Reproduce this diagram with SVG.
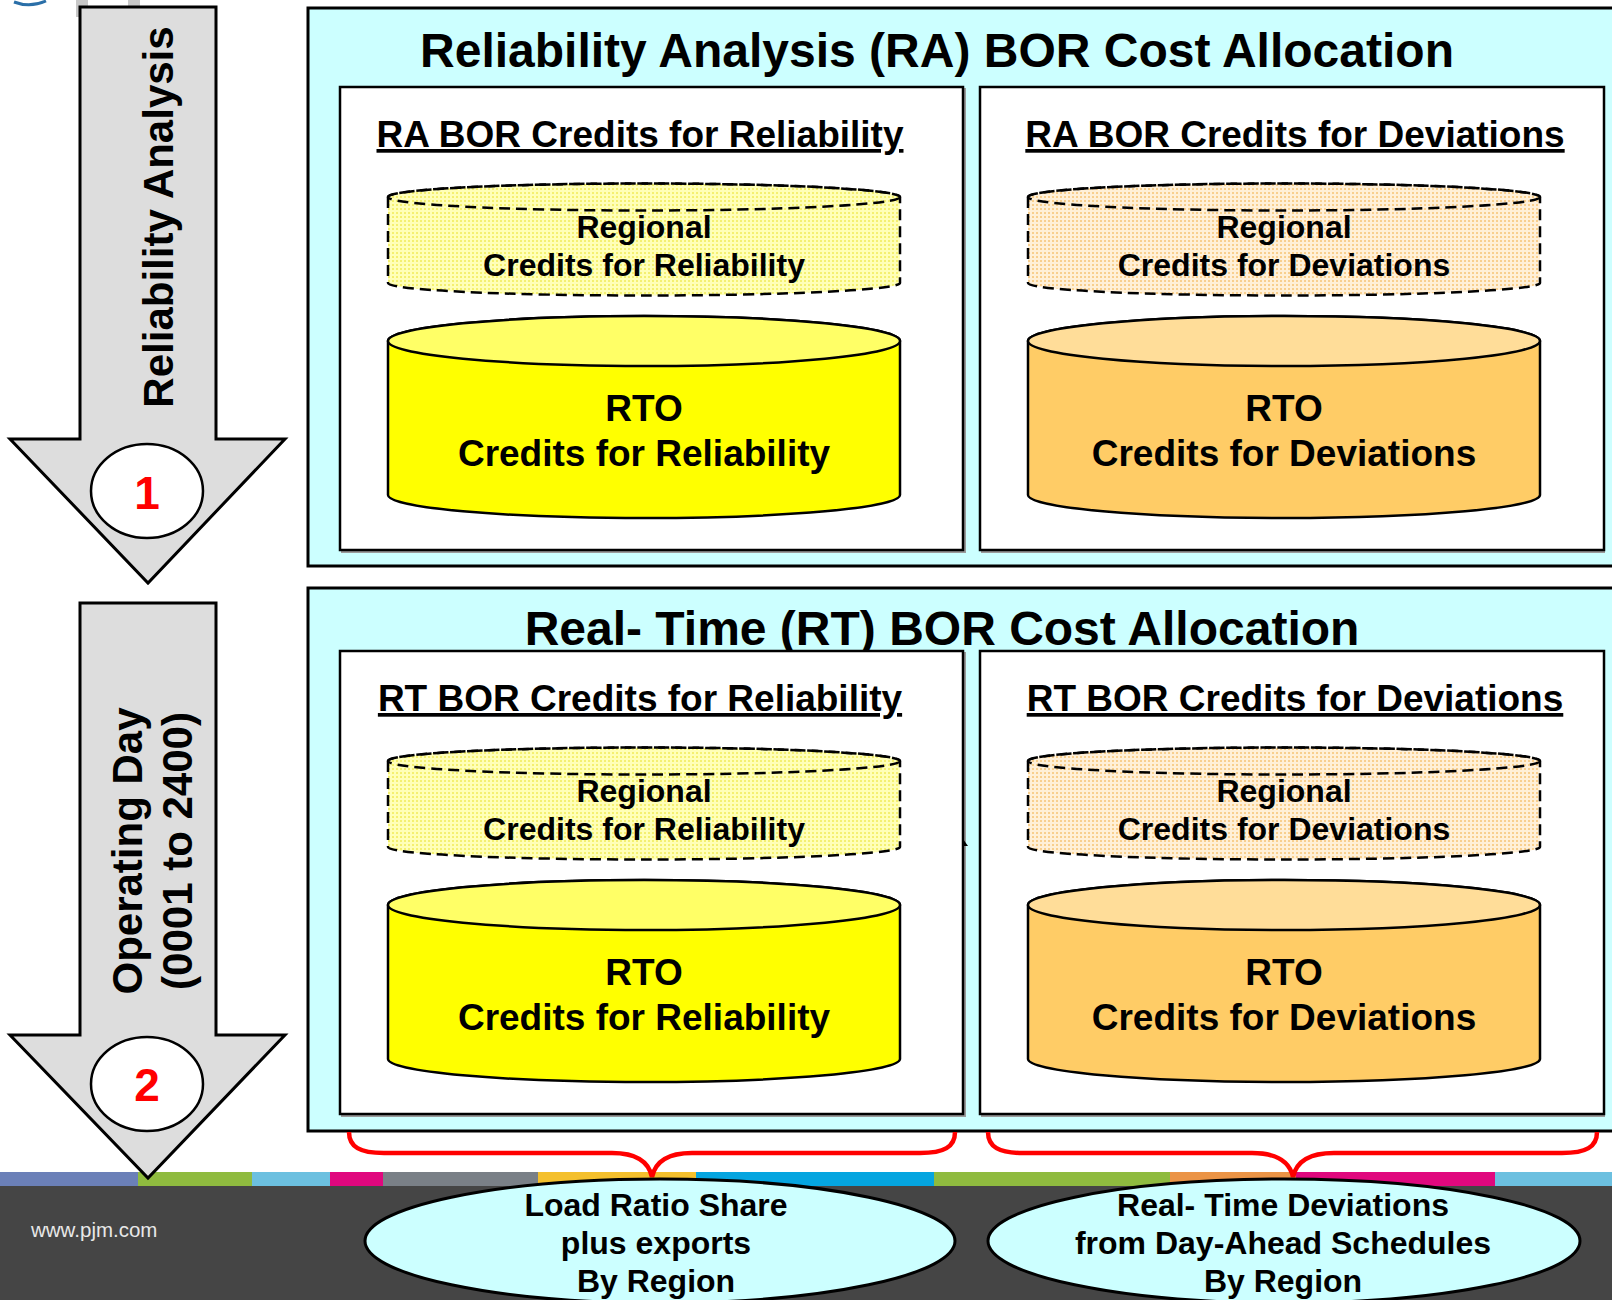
<svg xmlns="http://www.w3.org/2000/svg" width="1612" height="1300" viewBox="0 0 1612 1300">
  <style>
    text { font-family: "Liberation Sans", Arial, sans-serif; font-weight: bold; fill: #000; }
    .title { font-size: 48px; text-anchor: middle; }
    .sub { font-size: 37px; text-anchor: middle; text-decoration: underline; }
    .reg { font-size: 32px; text-anchor: middle; }
    .rto { font-size: 37px; text-anchor: middle; }
    .side { font-size: 42px; text-anchor: middle; }
    .num { font-size: 46px; text-anchor: middle; fill: #ff0000; }
    .oval { font-size: 32px; text-anchor: middle; }
    .panel { fill: #ccffff; stroke: #000; stroke-width: 3; }
    .box { fill: #ffffff; stroke: #000; stroke-width: 2.5; }
    .shadow { fill: none; stroke: #9a9a9a; stroke-width: 2; }
    .dash { stroke: #000; stroke-width: 2.5; stroke-dasharray: 11 6; }
    .solid { stroke: #000; stroke-width: 2.5; }
    .garrow { fill: #dddddd; stroke: #000; stroke-width: 3; stroke-linejoin: miter; }
    .badge { fill: #ffffff; stroke: #000; stroke-width: 2.5; }
    .brace { fill: none; stroke: #ff0000; stroke-width: 4.5; }
    .bubble { fill: #ccffff; stroke: #000; stroke-width: 3; }
  </style>
  <defs>
    <pattern id="pY" width="4" height="4" patternUnits="userSpaceOnUse">
      <rect width="4" height="4" fill="#ffffb8"/>
      <rect width="2" height="2" fill="#f4f070"/>
    </pattern>
    <pattern id="pO" width="4" height="4" patternUnits="userSpaceOnUse">
      <rect width="4" height="4" fill="#fff0d8"/>
      <rect width="2" height="2" fill="#f8cf8e"/>
    </pattern>
  </defs>

  <rect width="1612" height="1300" fill="#ffffff"/>

  <!-- background logo fragments -->
  <g id="logo-fragment">
    <path d="M14,2 Q30,8 46,1" fill="none" stroke="#2a6fa8" stroke-width="3"/>
    <rect x="76" y="0" width="12" height="17" fill="#c8c8c8"/>
    <rect x="128" y="0" width="12" height="7" fill="#c8c8c8"/>
  </g>

  <!-- footer -->
  <g id="footer">
    <rect x="0" y="1185" width="1612" height="115" fill="#454545"/>
    <rect x="0" y="1172" width="138" height="14" fill="#6b80b8"/>
    <rect x="138" y="1172" width="114" height="14" fill="#8fbb3f"/>
    <rect x="252" y="1172" width="78" height="14" fill="#6cc0e0"/>
    <rect x="330" y="1172" width="53" height="14" fill="#e0087e"/>
    <rect x="383" y="1172" width="155" height="14" fill="#7a8087"/>
    <rect x="538" y="1172" width="158" height="14" fill="#f4c02d"/>
    <rect x="696" y="1172" width="238" height="14" fill="#05a5e0"/>
    <rect x="934" y="1172" width="236" height="14" fill="#8fbb3f"/>
    <rect x="1170" y="1172" width="126" height="14" fill="#eb9446"/>
    <rect x="1296" y="1172" width="199" height="14" fill="#e0087e"/>
    <rect x="1495" y="1172" width="117" height="14" fill="#6cc0e0"/>
    <text x="31" y="1237" style="font-size:20.5px;font-weight:normal;fill:#e8e8e8">www.pjm.com</text>
  </g>

  <!-- RA panel -->
  <g id="ra-panel">
    <rect class="panel" x="308" y="8" width="1320" height="558"/>
    <text class="title" x="937" y="67">Reliability Analysis (RA) BOR Cost Allocation</text>
  </g>
  <g id="ra-reliability">
    <rect class="shadow" x="342" y="89" width="623" height="463"/>
    <rect class="box" x="340" y="87" width="623" height="463"/>
    <text class="sub" x="640" y="147">RA BOR Credits for Reliability</text>
    <g id="ra-regional-reliability">
      <path d="M388,197 L388,283 A256,12.5 0 0 0 900,283 L900,197 A256,13.5 0 0 0 388,197 Z" fill="url(#pY)" class="dash"/>
      <ellipse cx="644" cy="197" rx="256" ry="13.5" fill="none" class="dash"/>
      <text class="reg" x="644" y="238">Regional</text>
      <text class="reg" x="644" y="276">Credits for Reliability</text>
    </g>
    <g id="ra-rto-reliability">
      <path d="M388,341 L388,495 A256,23 0 0 0 900,495 L900,341 A256,25 0 0 0 388,341 Z" fill="#ffff00" class="solid"/>
      <ellipse cx="644" cy="341" rx="256" ry="25" fill="#ffff66" class="solid"/>
      <text class="rto" x="644" y="421">RTO</text>
      <text class="rto" x="644" y="466">Credits for Reliability</text>
    </g>
  </g>
  <g id="ra-deviations">
    <rect class="shadow" x="982" y="89" width="622" height="463"/>
    <rect class="box" x="980" y="87" width="624" height="463"/>
    <text class="sub" x="1295" y="147">RA BOR Credits for Deviations</text>
    <g id="ra-regional-deviations">
      <path d="M1028,197 L1028,283 A256,12.5 0 0 0 1540,283 L1540,197 A256,13.5 0 0 0 1028,197 Z" fill="url(#pO)" class="dash"/>
      <ellipse cx="1284" cy="197" rx="256" ry="13.5" fill="none" class="dash"/>
      <text class="reg" x="1284" y="238">Regional</text>
      <text class="reg" x="1284" y="276">Credits for Deviations</text>
    </g>
    <g id="ra-rto-deviations">
      <path d="M1028,341 L1028,495 A256,23 0 0 0 1540,495 L1540,341 A256,25 0 0 0 1028,341 Z" fill="#ffcc66" class="solid"/>
      <ellipse cx="1284" cy="341" rx="256" ry="25" fill="#ffdd99" class="solid"/>
      <text class="rto" x="1284" y="421">RTO</text>
      <text class="rto" x="1284" y="466">Credits for Deviations</text>
    </g>
  </g>

  <!-- RT panel -->
  <g id="rt-panel">
    <rect class="panel" x="308" y="588" width="1320" height="543"/>
    <text class="title" x="942" y="645">Real- Time (RT) BOR Cost Allocation</text>
  </g>
  <g id="rt-reliability">
    <rect class="shadow" x="342" y="653" width="623" height="463"/>
    <rect class="box" x="340" y="651" width="623" height="463"/>
    <text class="sub" x="640" y="711">RT BOR Credits for Reliability</text>
    <g id="rt-regional-reliability">
      <path d="M388,761 L388,847 A256,12.5 0 0 0 900,847 L900,761 A256,13.5 0 0 0 388,761 Z" fill="url(#pY)" class="dash"/>
      <ellipse cx="644" cy="761" rx="256" ry="13.5" fill="none" class="dash"/>
      <text class="reg" x="644" y="802">Regional</text>
      <text class="reg" x="644" y="840">Credits for Reliability</text>
    </g>
    <g id="rt-rto-reliability">
      <path d="M388,905 L388,1059 A256,23 0 0 0 900,1059 L900,905 A256,25 0 0 0 388,905 Z" fill="#ffff00" class="solid"/>
      <ellipse cx="644" cy="905" rx="256" ry="25" fill="#ffff66" class="solid"/>
      <text class="rto" x="644" y="985">RTO</text>
      <text class="rto" x="644" y="1030">Credits for Reliability</text>
    </g>
    <path d="M963,839 L968,846 L963,846 Z" fill="#000"/>
  </g>
  <g id="rt-deviations">
    <rect class="shadow" x="982" y="653" width="622" height="463"/>
    <rect class="box" x="980" y="651" width="624" height="463"/>
    <text class="sub" x="1295" y="711">RT BOR Credits for Deviations</text>
    <g id="rt-regional-deviations">
      <path d="M1028,761 L1028,847 A256,12.5 0 0 0 1540,847 L1540,761 A256,13.5 0 0 0 1028,761 Z" fill="url(#pO)" class="dash"/>
      <ellipse cx="1284" cy="761" rx="256" ry="13.5" fill="none" class="dash"/>
      <text class="reg" x="1284" y="802">Regional</text>
      <text class="reg" x="1284" y="840">Credits for Deviations</text>
    </g>
    <g id="rt-rto-deviations">
      <path d="M1028,905 L1028,1059 A256,23 0 0 0 1540,1059 L1540,905 A256,25 0 0 0 1028,905 Z" fill="#ffcc66" class="solid"/>
      <ellipse cx="1284" cy="905" rx="256" ry="25" fill="#ffdd99" class="solid"/>
      <text class="rto" x="1284" y="985">RTO</text>
      <text class="rto" x="1284" y="1030">Credits for Deviations</text>
    </g>
  </g>

  <!-- phase arrows -->
  <g id="arrow-ra">
    <polygon class="garrow" points="80,7 216,7 216,439 285,439 148,583 10,439 80,439"/>
    <text class="side" transform="translate(173,217) rotate(-90)">Reliability Analysis</text>
    <ellipse class="badge" cx="147" cy="491" rx="56" ry="47"/>
    <text class="num" x="147" y="509">1</text>
  </g>
  <g id="arrow-rt">
    <polygon class="garrow" points="80,603 216,603 216,1035 285,1035 148,1178 10,1035 80,1035"/>
    <text class="side" transform="translate(142,851) rotate(-90)">Operating Day</text>
    <text class="side" transform="translate(192,851) rotate(-90)">(0001 to 2400)</text>
    <ellipse class="badge" cx="147" cy="1084" rx="56" ry="47"/>
    <text class="num" x="147" y="1101">2</text>
  </g>

  <!-- connectors (braces) -->
  <g id="connectors">
    <path class="brace" d="M349,1132 C349,1147 360,1153 384,1153 L612,1153 C638,1153 649,1163 652,1177 C655,1163 666,1153 692,1153 L920,1153 C944,1153 955,1147 955,1132"/>
    <path class="brace" d="M988,1132 C988,1147 999,1153 1023,1153 L1252,1153 C1278,1153 1290,1163 1293,1177 C1296,1163 1308,1153 1334,1153 L1562,1153 C1586,1153 1597,1147 1597,1132"/>
  </g>

  <!-- bottom ovals -->
  <g id="oval-load-ratio">
    <ellipse class="bubble" cx="660" cy="1241" rx="295" ry="62"/>
    <text class="oval" x="656" y="1216">Load Ratio Share</text>
    <text class="oval" x="656" y="1254">plus exports</text>
    <text class="oval" x="656" y="1292">By Region</text>
  </g>
  <g id="oval-deviations">
    <ellipse class="bubble" cx="1284" cy="1241" rx="296" ry="62"/>
    <text class="oval" x="1283" y="1216">Real- Time Deviations</text>
    <text class="oval" x="1283" y="1254">from Day-Ahead Schedules</text>
    <text class="oval" x="1283" y="1292">By Region</text>
  </g>
</svg>
